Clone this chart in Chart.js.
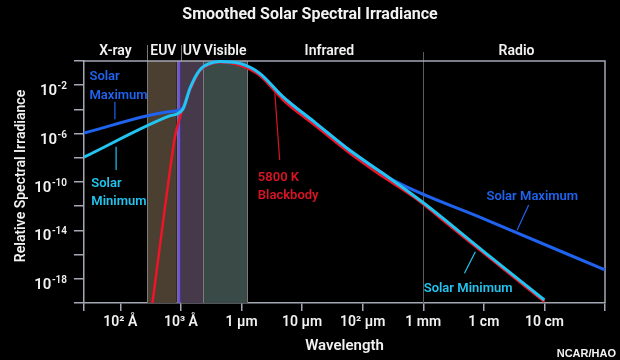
<!DOCTYPE html>
<html>
<head>
<meta charset="utf-8">
<script src="https://cdn.jsdelivr.net/npm/chart.js@4.4.0/dist/chart.umd.min.js"></script>
<style>
  html, body { margin: 0; padding: 0; background: #000; }
</style>
</head>
<body>
<canvas id="chart" width="620" height="360"></canvas>
<script>
// ---- data (log10 of wavelength in metres, log10 of relative irradiance) ----
const bbLogX  = [-7.47, -7.40, -7.29, -7.18, -7.10, -7.03, -6.97, -6.85, -6.69, -6.52, -6.36, -6.03, -5.70, -5.32, -4.77, -4.22, -3.67, -3.13, -2.58, -2.0, -1.0];
const bbLogY  = [-20, -17.3, -13.1, -9.0, -6.3, -4.9, -3.9, -2.4, -0.85, -0.27, -0.1, -0.35, -1.2, -3.2, -5.4, -7.6, -9.55, -11.35, -13.55, -15.9, -19.9];

const minLogX = [-8.6, -7.2, -6.97, -6.85, -6.69, -6.52, -6.36, -6.03, -5.70, -5.32, -4.77, -4.22, -3.67, -3.02, -2.0, -1.0];
const minLogY = [-7.95, -4.56, -4.0, -2.25, -0.75, -0.2, -0.05, -0.2, -1.02, -2.95, -5.15, -7.36, -9.28, -11.63, -15.75, -19.75];

const maxLogX = [-8.6, -7.2, -6.97, -6.85, -6.69, -6.52, -6.36, -6.03, -5.70, -5.32, -4.77, -4.22, -3.67, -3.45, -2.0, 0];
const maxLogY = [-5.95, -4.19, -3.9, -2.25, -0.75, -0.2, -0.05, -0.2, -1.02, -2.95, -5.15, -7.36, -9.28, -9.97, -13.04, -17.27];

// axis ticks
const xTickLogs   = [-8, -7, -6, -5, -4, -3, -2, -1];
const xTickLabels = ["10\u00b2 \u00c5", "10\u00b3 \u00c5", "1 \u03bcm", "10 \u03bcm", "10\u00b2 \u03bcm", "1 mm", "1 cm", "10 cm"];
const yTickLogs   = [-20, -18, -16, -14, -12, -10, -8, -6, -4, -2, 0];
const yLabelLogs  = [-18, -14, -10, -6, -2];

// spectral regions
const regionNames = ["X-ray", "EUV", "UV", "Visible", "Infrared", "Radio"];
const regionLabelLogX = [-8.08, -7.29, -6.82, -6.27, -4.55, -1.46];
const euvBand = [-7.56, -7.07];
const uvBand = [-7.0, -6.63];
const visBand = [-6.63, -5.91];
const lymanLine = -7.03;
const mmLine = -3;

const toPts = (xs, ys) => xs.map((x, i) => ({ x: Math.pow(10, x), y: Math.pow(10, ys[i]) }));

const WHITE = "#f2f2f2";
const AXIS = "#a4a8b4";
const BLUE = "#1f63ee";
const CYAN = "#22c4f0";
const RED = "#f01428";
const FONT = "Roboto, 'Open Sans', sans-serif";

// ===============================
// bands, frame and text
// ===============================
const decor = {
  id: "decor",
  beforeDatasetsDraw(chart) {
    const { ctx, chartArea: a, scales: { x } } = chart;
    const px = v => x.getPixelForValue(Math.pow(10, v));
    ctx.save();
    const band = (b, color) => {
      ctx.fillStyle = color;
      ctx.fillRect(px(b[0]), a.top, px(b[1]) - px(b[0]), a.bottom - a.top);
    };
    band(euvBand, "#4a3f31");
    band(uvBand, "#463a4a");
    band(visBand, "#3a4a47");

    ctx.strokeStyle = "#7a7a7a";
    ctx.lineWidth = 1;
    [euvBand[0], euvBand[1], uvBand[1], visBand[1]].forEach(v => {
      ctx.beginPath();
      ctx.moveTo(Math.round(px(v)) + 0.5, a.top);
      ctx.lineTo(Math.round(px(v)) + 0.5, a.bottom);
      ctx.stroke();
    });
    // header separators
    [euvBand[0], uvBand[0]].forEach(v => {
      ctx.beginPath();
      ctx.moveTo(Math.round(px(v)) + 0.5, a.top - 16);
      ctx.lineTo(Math.round(px(v)) + 0.5, a.top);
      ctx.stroke();
    });
    // 1 mm divider
    ctx.strokeStyle = "#5c5c5c";
    ctx.beginPath();
    ctx.moveTo(Math.round(px(mmLine)) + 0.5, a.top - 9);
    ctx.lineTo(Math.round(px(mmLine)) + 0.5, a.bottom);
    ctx.stroke();

    // Lyman line
    ctx.fillStyle = "#6f55d6";
    ctx.fillRect(px(lymanLine) - 1.5, a.top, 3, a.bottom - a.top);

    // frame top + right
    ctx.strokeStyle = AXIS;
    ctx.lineWidth = 1.5;
    ctx.beginPath();
    ctx.moveTo(a.left, a.top);
    ctx.lineTo(a.right, a.top);
    ctx.lineTo(a.right, a.bottom);
    ctx.stroke();
    ctx.restore();
  },
  afterDraw(chart) {
    const { ctx, chartArea: a, scales: { x, y } } = chart;
    const px = v => x.getPixelForValue(Math.pow(10, v));
    const py = v => y.getPixelForValue(Math.pow(10, v));
    ctx.save();
    ctx.textBaseline = "alphabetic";

    // title
    ctx.fillStyle = WHITE;
    ctx.textAlign = "center";
    ctx.font = "bold 16px " + FONT;
    ctx.fillText("Smoothed Solar Spectral Irradiance", 310, 19);

    // region headers
    ctx.font = "600 14px " + FONT;
    regionNames.forEach((n, i) => ctx.fillText(n, px(regionLabelLogX[i]), a.top - 6));

    // y tick labels with superscripts
    yLabelLogs.forEach(e => {
      const yy = py(e);
      const sup = "-" + Math.abs(e);
      ctx.font = "600 10px " + FONT;
      const sw = ctx.measureText(sup).width;
      ctx.textAlign = "left";
      ctx.fillText(sup, 67 - sw, yy + 4);
      ctx.font = "600 15px " + FONT;
      const bw = ctx.measureText("10").width;
      ctx.fillText("10", 67 - sw - bw - 0.5, yy + 10);
    });

    // axis titles
    ctx.font = "600 15px " + FONT;
    ctx.textAlign = "center";
    ctx.fillText("Wavelength", (a.left + a.right) / 2, 350);
    ctx.save();
    ctx.translate(25, 176);
    ctx.rotate(-Math.PI / 2);
    ctx.font = "600 14px " + FONT;
    ctx.fillText("Relative Spectral Irradiance", 0, 0);
    ctx.restore();

    ctx.font = "bold 11px 'Liberation Sans', Arial, sans-serif";
    ctx.textAlign = "right";
    ctx.fillText("NCAR/HAO", 616, 357);

    // curve annotations
    const note = (lines, lx, ly, color, align, lead) => {
      ctx.fillStyle = color;
      ctx.strokeStyle = color;
      ctx.font = "600 13px " + FONT;
      ctx.textAlign = align;
      lines.forEach((t, i) => ctx.fillText(t, px(lx), py(ly[i]) + 5));
      ctx.lineWidth = 1.2;
      ctx.beginPath();
      ctx.moveTo(px(lead[0]), py(lead[1]));
      ctx.lineTo(px(lead[2]), py(lead[3]));
      ctx.stroke();
    };
    note(["Solar", "Maximum"], -8.51, [-1.16, -2.73], BLUE, "left", [-8.09, -3.36, -8.09, -4.82]);
    note(["Solar", "Minimum"], -8.48, [-10.0, -11.49], CYAN, "left", [-8.07, -7.08, -8.07, -9.0]);
    note(["5800 K", "Blackbody"], -5.73, [-9.5, -10.99], "#d81424", "left", [-5.45, -2.67, -5.37, -8.18]);
    note(["Solar Maximum"], -1.20, [-11.07], BLUE, "center", [-1.26, -11.9, -1.45, -13.97]);
    note(["Solar Minimum"], -2.26, [-18.64], CYAN, "center", [-2.14, -15.76, -2.32, -17.55]);
    ctx.restore();
  }
};

new Chart(document.getElementById("chart"), {
  type: "line",
  data: {
    datasets: [
      { label: "5800 K Blackbody", data: toPts(bbLogX, bbLogY), borderColor: RED, borderWidth: 2.5, order: 3 },
      { label: "Solar Maximum", data: toPts(maxLogX, maxLogY), borderColor: BLUE, borderWidth: 3, order: 2 },
      { label: "Solar Minimum", data: toPts(minLogX, minLogY), borderColor: CYAN, borderWidth: 3, order: 1 }
    ]
  },
  options: {
    responsive: false,
    animation: false,
    layout: { padding: { top: 61, right: 15, left: 0, bottom: 0 } },
    elements: {
      point: { radius: 0 },
      line: { cubicInterpolationMode: "monotone", fill: false }
    },
    datasets: { line: { clip: 4 } },
    plugins: { legend: { display: false }, tooltip: { enabled: false } },
    scales: {
      x: {
        type: "logarithmic",
        min: Math.pow(10, -8.6),
        max: 1,
        afterFit: s => { s.height = 57; },
        afterBuildTicks: s => {
          s.ticks = [-8.6].concat(xTickLogs, [0]).map(v => ({ value: Math.pow(10, v) }));
        },
        grid: { drawOnChartArea: false, tickLength: 8, color: AXIS, lineWidth: 1.5 },
        border: { color: AXIS, width: 1.5 },
        ticks: {
          autoSkip: false,
          maxRotation: 0,
          padding: 3,
          color: WHITE,
          font: { family: FONT, size: 14, weight: 600 },
          callback: (v, i) => (i === 0 || i > xTickLabels.length) ? "" : xTickLabels[i - 1]
        }
      },
      y: {
        type: "logarithmic",
        min: 1e-20,
        max: 1,
        afterFit: s => { s.width = 84; },
        afterBuildTicks: s => {
          s.ticks = yTickLogs.map(v => ({ value: Math.pow(10, v) }));
        },
        grid: { drawOnChartArea: false, tickLength: 10, color: AXIS, lineWidth: 1.5 },
        border: { color: AXIS, width: 1.5 },
        ticks: { autoSkip: false, callback: () => "" }
      }
    }
  },
  plugins: [decor]
});
</script>
</body>
</html>
